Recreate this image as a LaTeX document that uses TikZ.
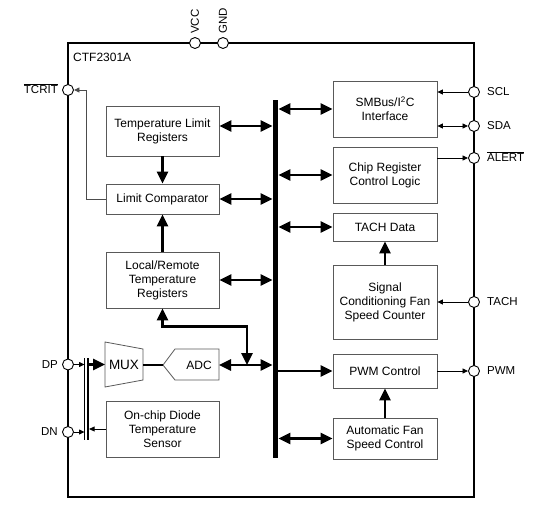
\documentclass[tikz,border=0pt]{standalone}
\usepackage{fontspec}
\setmainfont{Liberation Sans}
\usetikzlibrary{arrows.meta}
\newcommand\ovl[1]{$\overline{\hbox{#1}}$}
\begin{document}
\begin{tikzpicture}[x=1pt,y=-1pt,
 box/.style={draw=black!65, line width=0.8pt, align=center, inner sep=0, font=\fontsize{12}{14}\selectfont},
 pin/.style={circle, draw, fill=white, line width=0.9pt, minimum size=11pt, inner sep=0},
 plab/.style={font=\fontsize{11.5}{13}\selectfont, inner sep=0},
 title/.style={font=\fontsize{12}{14}\selectfont, inner sep=0},
 thk/.style={line width=2.6pt, -{Triangle[length=12pt,width=11pt]}},
 thkd/.style={line width=2.6pt, {Triangle[length=12pt,width=11pt]}-{Triangle[length=12pt,width=11pt]}},
 thn/.style={line width=0.8pt, -{Triangle[length=5.5pt,width=5pt]}},
 thnd/.style={line width=0.8pt, {Triangle[length=5.5pt,width=5pt]}-{Triangle[length=5.5pt,width=5pt]}},
 shp/.style={draw=black!65, line width=0.8pt},
]
\useasboundingbox (0,0) rectangle (536,509);
% outer chip
\draw[line width=2.4pt] (68,43) rectangle (474,497);
\node[title, anchor=west] (chip) at (73,57) {CTF2301A};
% bus
\node[fill=black, minimum width=5.5pt, minimum height=358pt, inner sep=0] (bus) at (275.5,279) {};
% left boxes
\node[box, minimum width=113pt, minimum height=50pt] (tlr) at (162.5,131) {Temperature Limit\\Registers};
\node[box, minimum width=113pt, minimum height=30pt] (lc) at (162.5,199) {Limit Comparator};
\node[box, minimum width=113pt, minimum height=56pt] (lrtr) at (162.5,280) {Local/Remote\\Temperature\\Registers};
\node[box, minimum width=113pt, minimum height=56pt] (ocd) at (162.5,429) {On-chip Diode\\Temperature\\Sensor};
% right boxes
\node[box, minimum width=104pt, minimum height=56pt] (smb) at (385,109) {SMBus/I\textsuperscript{2}C\\Interface};
\node[box, minimum width=104pt, minimum height=56pt] (crcl) at (385,175) {Chip Register\\Control Logic};
\node[box, minimum width=104pt, minimum height=28pt] (tachd) at (385,227) {TACH Data};
\node[box, minimum width=104pt, minimum height=74pt] (scfsc) at (385,302) {Signal\\Conditioning Fan\\Speed Counter};
\node[box, minimum width=104pt, minimum height=34pt] (pwmc) at (385,371) {PWM Control};
\node[box, minimum width=104pt, minimum height=41pt] (afsc) at (385,438.5) {Automatic Fan\\Speed Control};
% MUX and ADC
\draw[shp] (105,342) -- (143,349) -- (143,380) -- (105,387) -- cycle;
\node[inner sep=0, font=\fontsize{13.5}{15}\selectfont] (mux) at (124,365) {MUX};
\coordinate (muxin) at (105,364.5);
\coordinate (muxout) at (143,365);
\draw[shp] (163,365) -- (175,349) -- (219,349) -- (219,380) -- (175,380) -- cycle;
\node[inner sep=0, font=\fontsize{12}{14}\selectfont] (adc) at (199,365) {ADC};
\coordinate (adcin) at (163,365);
\coordinate (adcout) at (219,365);
% diode bars
\coordinate (bt) at (84.5,358);
\coordinate (bb) at (84.5,440);
\draw[line width=0.8pt] (bt) -- (bb);
\node[fill=black, minimum width=2.2pt, minimum height=82pt, inner sep=0] (bar) at (87.8,399) {};
% pins
\node[pin] (vcc) at (195,43) {};
\node[pin] (gnd) at (223,43) {};
\node[plab, rotate=90, anchor=west] (vccl) at (195,34) {VCC};
\node[plab, rotate=90, anchor=west] (gndl) at (223,34) {GND};
\node[pin] (tcrit) at (68,90) {};
\node[plab, anchor=east] (tcritl) at (58,89) {\ovl{TCRIT}};
\node[pin] (dp) at (68,364.5) {};
\node[plab, anchor=east] (dpl) at (58,364.5) {DP};
\node[pin] (dn) at (68,432) {};
\node[plab, anchor=east] (dnl) at (58,432) {DN};
\node[pin] (scl) at (474,92) {};
\node[plab, anchor=west] (scll) at (487,92) {SCL};
\node[pin] (sda) at (474,126) {};
\node[plab, anchor=west] (sdal) at (487,126) {SDA};
\node[pin] (alert) at (474,158) {};
\node[plab, anchor=west] (alertl) at (487,157) {\ovl{ALERT}};
\node[pin] (tach) at (474,302) {};
\node[plab, anchor=west] (tachl) at (487,302) {TACH};
\node[pin] (pwm) at (474,371) {};
\node[plab, anchor=west] (pwml) at (487,371) {PWM};
% left bus connections
\draw[thkd] ([yshift=5pt]tlr.east) -- ([yshift=5pt]tlr.east -| bus.west);
\draw[thkd] (lc.east) -- (lc.east -| bus.west);
\draw[thkd] (lrtr.east) -- (lrtr.east -| bus.west);
\draw[thkd] (adcout) -- (adcout -| bus.west);
\draw[thk] (tlr.south) -- (lc.north);
\draw[thk] (lrtr.north) -- (lc.south);
\coordinate (j) at (247,365);
\draw[thkd] (lrtr.south) -- ++(0,18) -| (j);
\draw[line width=2.6pt] (muxout) -- (adcin);
\draw[thn, draw=black!70] (lc.west) -- ++(-19,0) |- (tcrit.east);
% diode inputs
\draw[thn] (dp.east) -- (dp.east -| bt);
\draw[thk] (dp.east -| bar.east) -- (muxin);
\draw[thn] (dn.east) -- (dn.east -| bt);
\draw[thn] (ocd.west) -- (ocd.west -| bar.east);
% right bus connections
\draw[thkd] (bus.east |- smb.west) -- (smb.west);
\draw[thkd] (bus.east |- crcl.west) -- (crcl.west);
\draw[thkd] (bus.east |- tachd.west) -- (tachd.west);
\draw[thk] (bus.east |- pwmc.west) -- (pwmc.west);
\draw[thkd] (bus.east |- afsc.west) -- (afsc.west);
\draw[thk] (scfsc.north) -- (tachd.south);
\draw[thk] (afsc.north) -- (pwmc.south);
% right pins
\draw[thn] (scl.west) -- (scl.west -| smb.east);
\draw[thnd] (sda.west -| smb.east) -- (sda.west);
\draw[thn] (alert.west -| crcl.east) -- (alert.west);
\draw[thn] (tach.west) -- (tach.west -| scfsc.east);
\draw[thn] (pwmc.east) -- (pwm.west);
\end{tikzpicture}
\end{document}
